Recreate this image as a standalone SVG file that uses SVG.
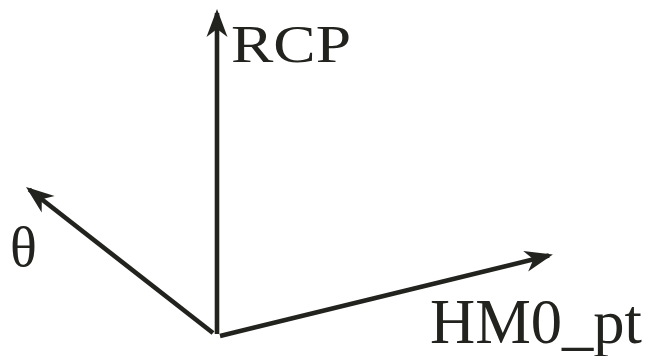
<svg xmlns="http://www.w3.org/2000/svg" width="651" height="356" viewBox="0 0 651 356">
<style>
.ax{stroke:#22221e;stroke-width:4.6;fill:none;marker-end:url(#ah)}
.lb{font-family:"Liberation Serif","Times New Roman",serif;fill:#22221e}
</style>
<defs>
<marker id="ah" markerUnits="userSpaceOnUse" markerWidth="40" markerHeight="40" viewBox="-30 -15 40 30" refX="-4" refY="0" orient="auto">
<path d="M0,0 L-28,-10.5 L-20,0 L-28,10.5 Z" fill="#22221e"/>
</marker>
</defs>
<rect width="651" height="356" fill="#ffffff"/>
<g id="connectors">
<line class="ax" x1="217" y1="334" x2="217" y2="13"/>
<line class="ax" x1="213" y1="333" x2="29.2" y2="189.5"/>
<line class="ax" x1="220" y1="336" x2="549" y2="255.5"/>
</g>
<g id="rcp"><text class="lb" x="231" y="62" font-size="53" textLength="120" lengthAdjust="spacingAndGlyphs">RCP</text></g>
<g id="theta"><text class="lb" x="10" y="266" font-size="56">θ</text></g>
<g id="hm0pt"><text class="lb" x="430" y="343" font-size="64" textLength="212" lengthAdjust="spacingAndGlyphs">HM0_pt</text></g>
</svg>
